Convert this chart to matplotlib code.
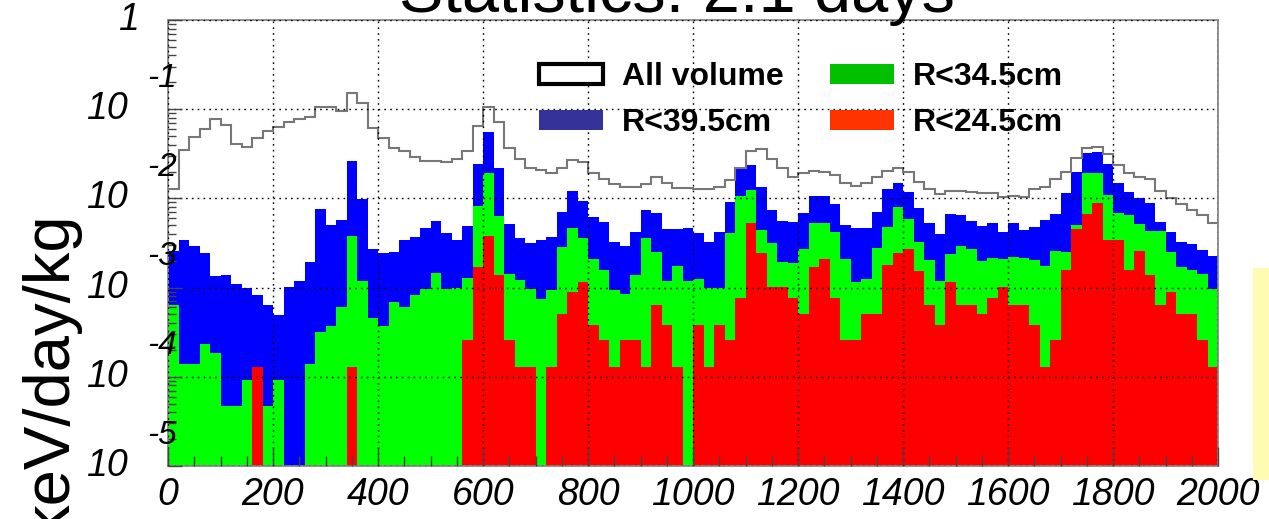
import numpy as np
import matplotlib.pyplot as plt
from matplotlib.patches import Patch, Rectangle
from matplotlib.ticker import MultipleLocator, NullFormatter
from matplotlib.transforms import blended_transform_factory, offset_copy

plt.rcParams['font.family'] = ['Liberation Sans', 'DejaVu Sans']

# energy bins, 20 keV wide
bin_edges = np.arange(0, 2001, 20)

all_volume = [
    0.0127, 0.0348, 0.0482, 0.0597, 0.0773, 0.0662, 0.0406, 0.0378, 0.0478, 0.0572,
    0.0634, 0.0721, 0.0773, 0.0820, 0.105, 0.106, 0.0958, 0.152, 0.118, 0.0618,
    0.0470, 0.0372, 0.0342, 0.0288, 0.0264, 0.0264, 0.0257, 0.0278, 0.0342, 0.0646,
    0.106, 0.0721, 0.0372, 0.0273, 0.0217, 0.0207, 0.0195, 0.0222, 0.0269, 0.0257,
    0.0191, 0.0167, 0.0145, 0.0133, 0.0135, 0.0145, 0.0172, 0.0150, 0.0132, 0.0132,
    0.0127, 0.0129, 0.0135, 0.0160, 0.0217, 0.0342, 0.0354, 0.0273, 0.0217, 0.0175,
    0.0191, 0.0202, 0.0199, 0.0182, 0.0147, 0.0137, 0.0147, 0.0175, 0.0204, 0.0220,
    0.0199, 0.0154, 0.0126, 0.0111, 0.0122, 0.0121, 0.0119, 0.0116, 0.0114, 0.0104,
    0.0107, 0.0104, 0.0127, 0.0135, 0.0163, 0.0199, 0.0281, 0.0372, 0.0378, 0.0311,
    0.0236, 0.0191, 0.0172, 0.0163, 0.0122, 0.0100, 0.00865, 0.00740, 0.00646, 0.00535,
]

r_39_5 = [
    0.00259, 0.00342, 0.00292, 0.00247, 0.00135, 0.00139, 0.00110, 0.000984, 0.000828, 0.000640,
    0.000494, 0.00101, 0.00120, 0.00195, 0.00760, 0.00502, 0.00571, 0.0264, 0.00975, 0.00269,
    0.00247, 0.00253, 0.00342, 0.00372, 0.00461, 0.00557, 0.00413, 0.00342, 0.00490, 0.0242,
    0.0557, 0.0222, 0.00512, 0.00356, 0.00313, 0.00342, 0.00372, 0.00710, 0.0122, 0.00942,
    0.00624, 0.00548, 0.00327, 0.00295, 0.00424, 0.00740, 0.00692, 0.00450, 0.00451, 0.00461,
    0.00406, 0.00327, 0.00416, 0.00902, 0.0217, 0.0236, 0.0135, 0.00740, 0.00557, 0.00548,
    0.00692, 0.0106, 0.0106, 0.00857, 0.00502, 0.00470, 0.00471, 0.00710, 0.0126, 0.0150,
    0.0119, 0.00773, 0.00535, 0.00399, 0.00662, 0.00651, 0.00557, 0.00494, 0.00525, 0.00416,
    0.00525, 0.00443, 0.00482, 0.00571, 0.00662, 0.0114, 0.0199, 0.0319, 0.0333, 0.0242,
    0.0147, 0.0119, 0.0100, 0.00879, 0.00548, 0.00424, 0.00327, 0.00305, 0.00264, 0.00226,
]

r_34_5 = [
    0.000640, 0.000140, 0.000140, 0.000232, 0.000184, 0.0000466, 0.0000466, 0.0000925, 0.000128, 0.0000466,
    0.0000925, 0, 0, 0.000140, 0.000321, 0.000372, 0.000603, 0.00382, 0.00119, 0.000461,
    0.000372, 0.000686, 0.000603, 0.000828, 0.000958, 0.00145, 0.000958, 0.00100, 0.00127, 0.00828,
    0.0191, 0.00640, 0.00141, 0.00122, 0.000958, 0.000740, 0.000940, 0.00282, 0.00461, 0.00363,
    0.00209, 0.00158, 0.000940, 0.000841, 0.00139, 0.00363, 0.00253, 0.00120, 0.00176, 0.00120,
    0.00125, 0.000984, 0.000984, 0.00406, 0.0106, 0.0124, 0.00443, 0.00319, 0.00195, 0.00190,
    0.00269, 0.00525, 0.00535, 0.00424, 0.00207, 0.00117, 0.00125, 0.00280, 0.00482, 0.00807,
    0.00582, 0.00327, 0.00204, 0.00120, 0.00236, 0.00292, 0.00269, 0.00199, 0.00213, 0.00209,
    0.00222, 0.00217, 0.00204, 0.00175, 0.00259, 0.00253, 0.00502, 0.0195, 0.0195, 0.0109,
    0.00679, 0.00651, 0.00512, 0.00435, 0.00430, 0.00250, 0.00169, 0.00158, 0.00141, 0.000958,
]

r_24_5 = [
    0, 0, 0, 0, 0, 0, 0, 0, 0.000128, 0,
    0, 0, 0, 0, 0, 0, 0, 0.000128, 0, 0,
    0, 0, 0, 0, 0, 0, 0, 0, 0.000256, 0.00172,
    0.00378, 0.00139, 0.000256, 0.000128, 0.000128, 0, 0.000128, 0.000512, 0.000902, 0.00117,
    0.000384, 0.000256, 0.000128, 0.000256, 0.000256, 0.000128, 0.000640, 0.000384, 0.000128, 0,
    0.000384, 0.000128, 0.000384, 0.000256, 0.000768, 0.00535, 0.00242, 0.00102, 0.00102, 0.000768,
    0.000512, 0.00172, 0.00207, 0.000768, 0.000256, 0.000256, 0.000512, 0.000512, 0.00178, 0.00247,
    0.00269, 0.00155, 0.000640, 0.000384, 0.00117, 0.000640, 0.000640, 0.000512, 0.000768, 0.00102,
    0.000640, 0.000640, 0.000384, 0.000128, 0.000256, 0.00158, 0.00450, 0.00668, 0.00894, 0.00342,
    0.00342, 0.00158, 0.00259, 0.00139, 0.000640, 0.000902, 0.000512, 0.000512, 0.000256, 0.000128,
]

x_ticks = list(range(0, 2001, 200))

W, H = 1269, 519
fig = plt.figure(figsize=(W / 100, H / 100), dpi=100)
ax = fig.add_axes([168 / W, 1 - 466 / H, 1050 / W, 446 / H])

ax.set_yscale('log')
ax.set_xlim(0, 2000)
ax.set_ylim(1e-5, 1)

# filled histograms, drawn on top of each other like ROOT "same"
left = bin_edges[:-1]
for vals, col in [(r_39_5, '#0000ff'), (r_34_5, '#00ff00'), (r_24_5, '#ff0000')]:
    ax.bar(left, vals, width=20, align='edge', bottom=1e-7, color=col, linewidth=0)

ax.stairs(all_volume, bin_edges, baseline=None, color='#777777', linewidth=1.5)

# axes styling
for s in ax.spines.values():
    s.set_color('#888888')
    s.set_linewidth(1.3)
ax.set_axisbelow(False)
ax.grid(True, which='major', color='black', linestyle=(0, (1.2, 3)), linewidth=1.0)

ax.set_xticks(x_ticks)
ax.set_xticklabels([str(t) for t in x_ticks], fontstyle='italic')
ax.xaxis.set_minor_locator(MultipleLocator(50))
ax.tick_params(axis='x', which='major', direction='in', length=14, width=1,
               color='#444444', labelsize=27, pad=8)
ax.tick_params(axis='x', which='minor', direction='in', length=7, width=1, color='#444444')

ax.tick_params(axis='y', which='major', direction='in', length=10, width=1,
               color='#444444', labelleft=False)
ax.tick_params(axis='y', which='minor', direction='in', length=6, width=1, color='#444444')
ax.yaxis.set_minor_formatter(NullFormatter())

# ROOT-like y labels: "10" with the exponent above it
trans = blended_transform_factory(ax.transAxes, ax.transData)
exp_trans = offset_copy(trans, fig=fig, x=0, y=31, units='dots')
for k in range(-5, 0):
    ax.text(-0.038, 10.0 ** k, '10', transform=trans, ha='right', va='center',
            fontsize=27, style='italic')
    ax.text(-0.020, 10.0 ** k, str(k), transform=exp_trans, ha='left', va='center',
            fontsize=24, style='italic')
ax.text(-0.028, 1, '1', transform=trans, ha='right', va='center', fontsize=27, style='italic')

# legend
handles = [
    Patch(facecolor='white', edgecolor='black', linewidth=3),
    Patch(facecolor='#333399', edgecolor='none'),
    Patch(facecolor='#00c000', edgecolor='none'),
    Patch(facecolor='#ff3300', edgecolor='none'),
]
labels = ['All volume', 'R<39.5cm', 'R<34.5cm', 'R<24.5cm']
ax.legend(handles, labels, ncol=2, loc='upper left', frameon=False,
          bbox_to_anchor=(539 / W, 1 - 62 / H), bbox_transform=fig.transFigure,
          prop={'weight': 'bold', 'size': 23}, handlelength=2.0, handleheight=0.6,
          handletextpad=0.6, columnspacing=1.45, labelspacing=0.5, borderpad=0,
          borderaxespad=0)

# title and axis label, cut by the figure edges as in the source image
fig.text(677 / W, 1 - 12 / H, 'Statistics: 2.1 days', ha='center', va='baseline', fontsize=48)
fig.text(49 / W, 1 - 210 / H, 'keV/day/kg', rotation=90, ha='center', va='top', fontsize=47)

# edge of a stats box on the right
fig.patches.append(Rectangle((1253 / W, 1 - 480 / H), 20 / W, 212 / H,
                             transform=fig.transFigure, facecolor='#fffbb3',
                             edgecolor='none'))

fig.savefig('out.png', dpi=100)
